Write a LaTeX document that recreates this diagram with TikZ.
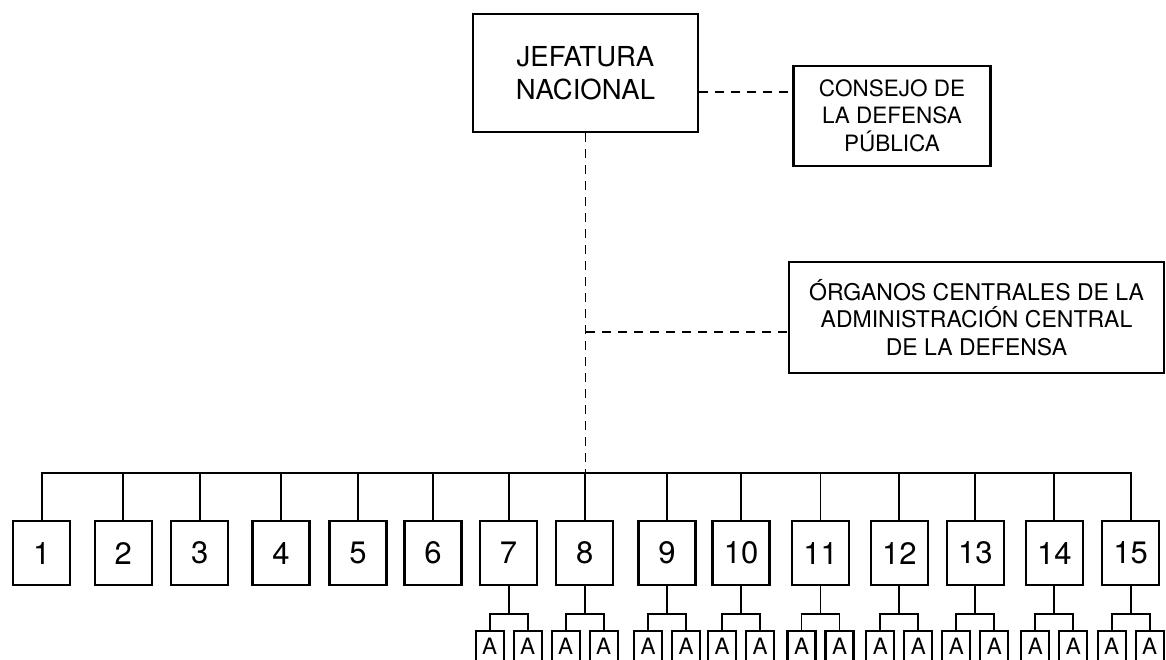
\documentclass[tikz,border=0pt]{standalone}
\usepackage{fontspec}
\setmainfont{TeX Gyre Heros}
\begin{document}
\begin{tikzpicture}[x=1pt,y=-1pt,
  box/.style={draw,line width=2.2pt,inner sep=0pt,align=center},
  numbox/.style={box,minimum width=57pt,minimum height=64pt,font=\fontsize{31}{33}\selectfont},
  abox/.style={box,minimum width=28pt,minimum height=30pt,font=\fontsize{22.5}{24}\selectfont},
  conn/.style={line width=1.8pt},
  dashconn/.style={line width=1.8pt,dash pattern=on 9pt off 7pt}]
\useasboundingbox (0,0) rectangle (1166,659);
\clip (0,0) rectangle (1166,659);

\node[box,minimum width=225pt,minimum height=118pt,font=\fontsize{27.5}{33}\selectfont] (jef) at (585.5,73) {JEFATURA\\NACIONAL};
\node[box,minimum width=197pt,minimum height=100pt,font=\fontsize{22.5}{27.5}\selectfont] (cons) at (892,115.7) {CONSEJO DE\\LA DEFENSA\\PÚBLICA};
\node[box,minimum width=375pt,minimum height=111pt,font=\fontsize{23}{27.5}\selectfont] (org) at (976.5,317.5) {ÓRGANOS CENTRALES DE LA\\ADMINISTRACIÓN CENTRAL\\DE LA DEFENSA};

\foreach \x [count=\i] in {41.7,123.3,199.7,281,358,433,508.6,584.7,667,741,820.5,899.3,975.3,1054.3,1130.7} {
  \node[numbox] (b\i) at (\x,553) {\i};
}
\foreach \x [count=\j from 7] in {508.6,584.7,667,741,820.5,899.3,975.3,1054.3,1130.7} {
  \node[abox] (al\j) at (\x-19,646) {A};
  \node[abox] (ar\j) at (\x+19,646) {A};
  \draw[conn] (b\j.south) -- ++(0,28) coordinate (m\j);
  \draw[conn] (al\j.north) |- (m\j) -| (ar\j.north);
}

\coordinate (busy) at (0,473);
\coordinate (orgy) at (0,332);
\coordinate (consy) at (0,92);
\draw[conn] (b1.north) -- (b1.north |- busy) -- (b15.north |- busy) -- (b15.north);
\foreach \i in {2,...,14} \draw[conn] (b\i.north) -- (b\i.north |- busy);
\draw[dashconn] (jef.south) -- (jef.south |- busy);
\draw[dashconn] (jef.south |- orgy) -- (org.west |- orgy);
\draw[dashconn] (jef.east |- consy) -- (cons.west |- consy);
\end{tikzpicture}
\end{document}
